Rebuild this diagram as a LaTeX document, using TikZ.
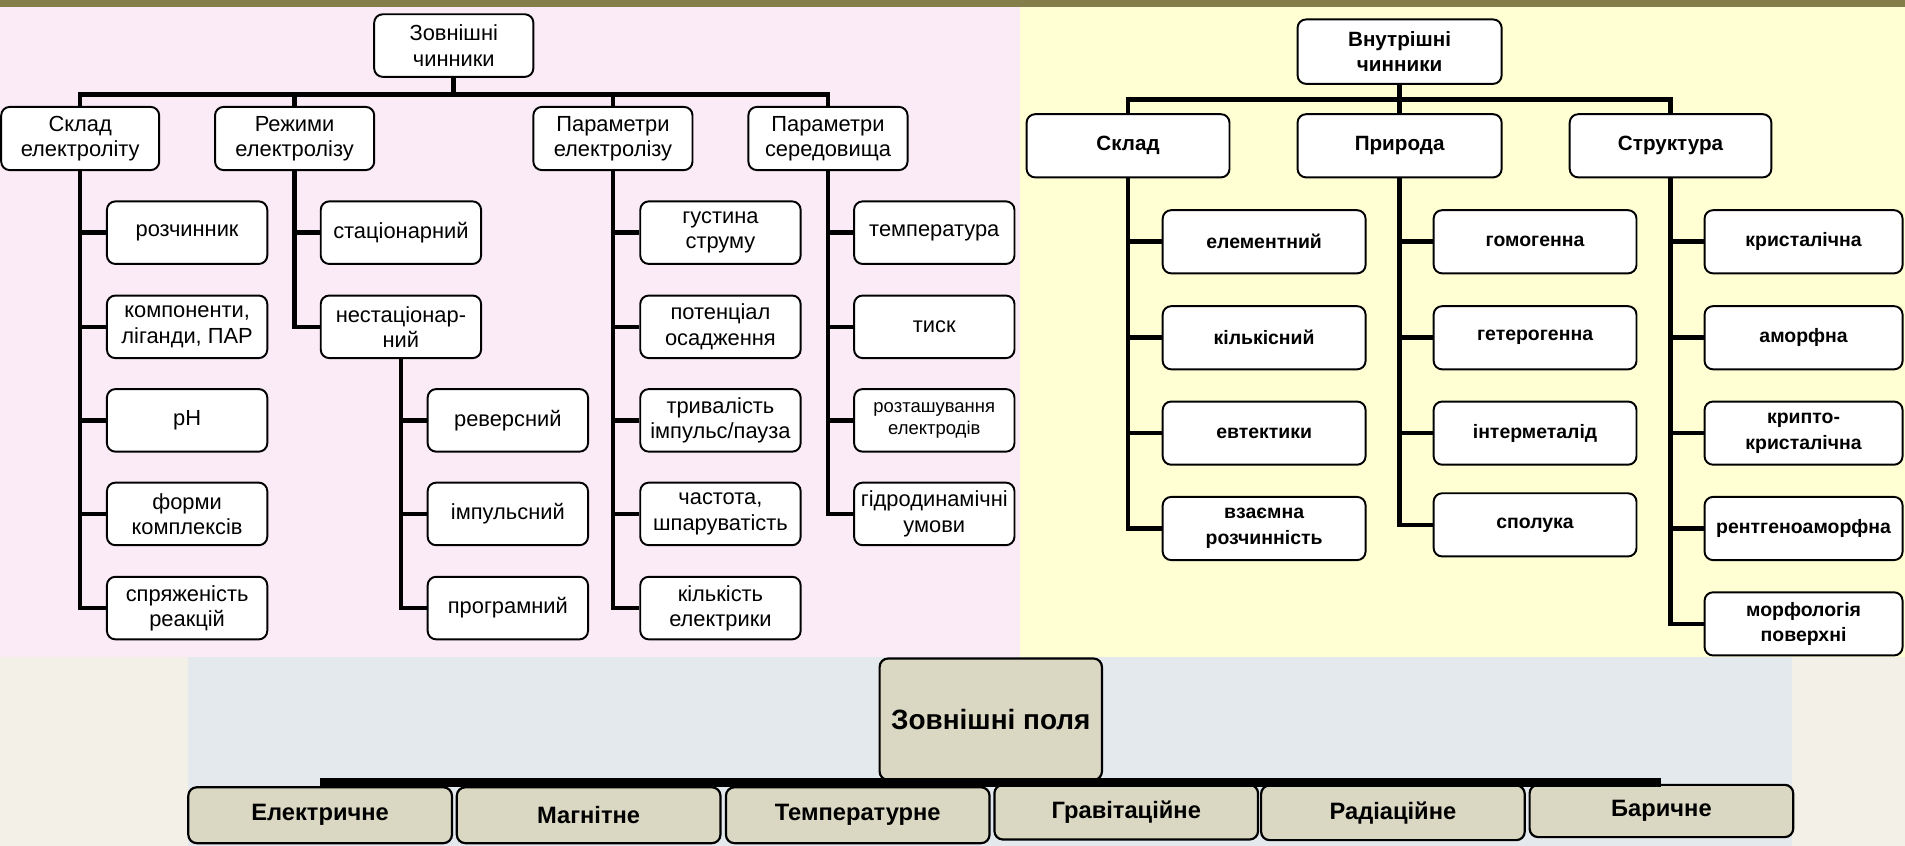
\documentclass[tikz,border=0pt]{standalone}
\usepackage{fontspec}
\setmainfont{Liberation Sans}
\definecolor{olivebar}{HTML}{847E4B}
\definecolor{pinkbg}{HTML}{FBEBF7}
\definecolor{yellowbg}{HTML}{FFFFD3}
\definecolor{beigebg}{HTML}{F3F1E7}
\definecolor{bluebg}{HTML}{E3E9EC}
\definecolor{fieldbox}{HTML}{DAD8C2}
\begin{document}
\begin{tikzpicture}[x=1pt,y=-1pt,
  box/.style={draw, line width=1.6pt, rounded corners=7pt, fill=white, align=center, inner sep=0pt},
  lbox/.style={box, minimum width=132pt, minimum height=51.5pt, font=\fontsize{18}{20.8}\selectfont},
  rbox/.style={box, minimum width=167pt, minimum height=52pt, font=\bfseries\fontsize{16}{21}\selectfont},
  rtop/.style={box, minimum width=167pt, minimum height=52pt, font=\bfseries\fontsize{17}{20.5}\selectfont},
  fbox/.style={draw, line width=1.8pt, rounded corners=7pt, fill=fieldbox, align=center, inner sep=0pt, minimum width=217pt, font=\bfseries\fontsize{19.5}{22}\selectfont},
  conn/.style={line width=3.8pt},
  fbus/.style={line width=8pt}]
\useasboundingbox (0,0) rectangle (1568,696);
% backgrounds
\fill[olivebar] (0,0) rectangle (1568,5.5);
\fill[pinkbg] (0,5.5) rectangle (839.5,541);
\fill[yellowbg] (839.5,5.5) rectangle (1568,541);
\fill[beigebg] (0,541) rectangle (1568,696);
\fill[bluebg] (155,541) rectangle (1475,696);

% ---------- left tree ----------
\node[lbox, minimum width=131pt] (lroot) at (373.5,37.5) {Зовнішні\\чинники};
\node[lbox, minimum width=130pt, minimum height=52pt] (skl) at (66,114) {Склад\\електроліту};
\node[lbox, minimum width=131pt, minimum height=52pt] (rez) at (242.5,114) {Режими\\електролізу};
\node[lbox, minimum width=131pt, minimum height=52pt] (pel) at (504.5,114) {Параметри\\електролізу};
\node[lbox, minimum width=131pt, minimum height=52pt] (pse) at (681.5,114) {Параметри\\середовища};

\node[lbox] (a1) at (154,191.5) {розчинник};
\node[lbox] (a2) at (154,269) {компоненти,\\ліганди, ПАР};
\node[lbox] (a3) at (154,346) {pH};
\node[lbox] (a4) at (154,423) {форми\\комплексів};
\node[lbox] (a5) at (154,500.5) {спряженість\\реакцій};

\node[lbox] (b1) at (330,191.5) {стаціонарний};
\node[lbox] (b2) at (330,269) {нестаціонар-\\ний};

\node[lbox] (c1) at (418,346) {реверсний};
\node[lbox] (c2) at (418,423) {імпульсний};
\node[lbox] (c3) at (418,500.5) {програмний};

\node[lbox] (d1) at (593,191.5) {густина\\струму};
\node[lbox] (d2) at (593,269) {потенціал\\осадження};
\node[lbox] (d3) at (593,346) {тривалість\\імпульс/пауза};
\node[lbox] (d4) at (593,423) {частота,\\шпаруватість};
\node[lbox] (d5) at (593,500.5) {кількість\\електрики};

\node[lbox] (e1) at (769,191.5) {температура};
\node[lbox] (e2) at (769,269) {тиск};
\node[lbox, font=\fontsize{15.2}{18.5}\selectfont] (e3) at (769,346) {розташування\\електродів};
\node[lbox] (e4) at (769,423) {гідродинамічні\\умови};

\coordinate (lbus) at (373.5,78);
\draw[conn] (lroot.south) -- (lbus);
\draw[conn] (skl.north) |- (lbus) -| (pse.north);
\draw[conn] (rez.north) -- (rez.north |- lbus);
\draw[conn] (pel.north) -- (pel.north |- lbus);
\foreach \c in {a1,a2,a3,a4,a5} \draw[conn] (skl.south) |- (\c.west);
\foreach \c in {b1,b2} \draw[conn] (rez.south) |- (\c.west);
\foreach \c in {c1,c2,c3} \draw[conn] (b2.south) |- (\c.west);
\foreach \c in {d1,d2,d3,d4,d5} \draw[conn] (pel.south) |- (\c.west);
\foreach \c in {e1,e2,e3,e4} \draw[conn] (pse.south) |- (\c.west);

% ---------- right tree ----------
\node[rtop, minimum width=168pt, minimum height=53pt] (rroot) at (1152,42.5) {Внутрішні\\чинники};
\node[rtop] (rskl) at (928.5,120) {Склад};
\node[rtop, minimum width=168pt] (rpri) at (1152,120) {Природа};
\node[rtop, minimum width=166pt] (rstr) at (1375,120) {Структура};

\node[rbox] (f1) at (1040.5,199) {елементний};
\node[rbox] (f2) at (1040.5,278) {кількісний};
\node[rbox] (f3) at (1040.5,356.5) {евтектики};
\node[rbox] (f4) at (1040.5,435) {взаємна\\розчинність};

\node[rbox] (g1) at (1263.5,199) {гомогенна};
\node[rbox] (g2) at (1263.5,278) {гетерогенна};
\node[rbox] (g3) at (1263.5,356.5) {інтерметалід};
\node[rbox] (g4) at (1263.5,432) {сполука};

\node[rbox, minimum width=163pt] (h1) at (1484.5,199) {кристалічна};
\node[rbox, minimum width=163pt] (h2) at (1484.5,278) {аморфна};
\node[rbox, minimum width=163pt] (h3) at (1484.5,356.5) {крипто-\\кристалічна};
\node[rbox, minimum width=163pt] (h4) at (1484.5,435) {рентгеноаморфна};
\node[rbox, minimum width=163pt] (h5) at (1484.5,513.5) {морфологія\\поверхні};

\coordinate (rbus) at (1152,82);
\draw[conn] (rroot.south) -- (rbus);
\draw[conn] (rskl.north) |- (rbus) -| (rstr.north);
\draw[conn] (rpri.north) -- (rpri.north |- rbus);
\foreach \c in {f1,f2,f3,f4} \draw[conn] (rskl.south) |- (\c.west);
\foreach \c in {g1,g2,g3,g4} \draw[conn] (rpri.south) |- (\c.west);
\foreach \c in {h1,h2,h3,h4,h5} \draw[conn] (rstr.south) |- (\c.west);

% ---------- external fields ----------
\node[fbox, minimum width=183pt, minimum height=100pt, font=\bfseries\fontsize{23}{26}\selectfont] (zp) at (815.5,592) {Зовнішні поля};
\node[fbox, minimum height=46pt] (p1) at (263.5,671) {Електричне};
\node[fbox, minimum height=46pt] (p2) at (484.5,671) {Магнітне};
\node[fbox, minimum height=46pt] (p3) at (706,671) {Температурне};
\node[fbox, minimum height=45pt] (p4) at (927,668.5) {Гравітаційне};
\node[fbox, minimum height=45pt] (p5) at (1146.5,669) {Радіаційне};
\node[fbox, minimum height=43pt] (p6) at (1367.5,667.5) {Баричне};

\coordinate (bbus) at (815.5,644);
\draw[fbus] (p1.north |- bbus) -- (p6.north |- bbus);
\draw[fbus] (zp.south) -- (bbus);
\end{tikzpicture}
\end{document}
